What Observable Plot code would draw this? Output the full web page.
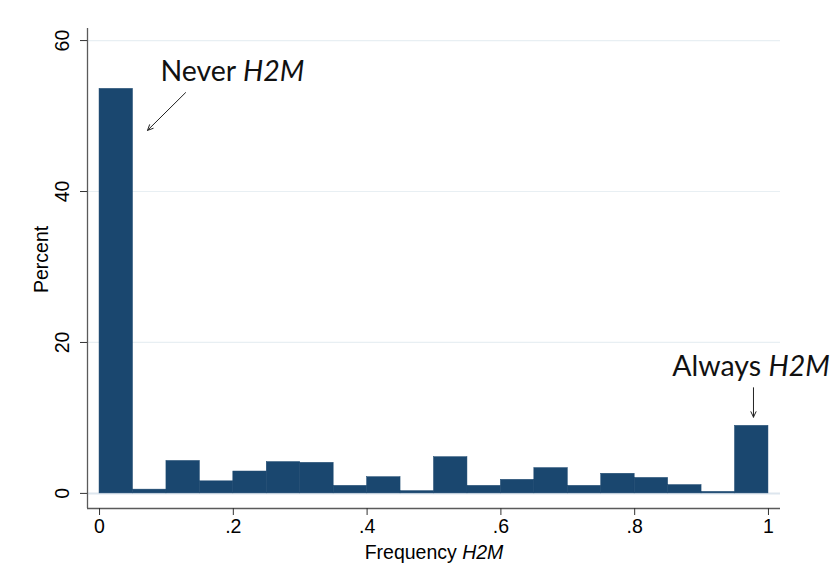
<!DOCTYPE html>
<html><head><meta charset="utf-8">
<script src="https://cdn.jsdelivr.net/npm/d3@7"></script>
<script src="https://cdn.jsdelivr.net/npm/@observablehq/plot@0.6"></script>
<style>
body{margin:0;background:#fff}
svg{display:block}
</style>
</head><body><div id="chart"></div>
<script>
// Histogram bins (left/right edges, width 0.05) and percent per bin
const binLeft  = [0, 0.05, 0.10, 0.15, 0.20, 0.25, 0.30, 0.35, 0.40, 0.45, 0.50, 0.55, 0.60, 0.65, 0.70, 0.75, 0.80, 0.85, 0.90, 0.95];
const binRight = [0.05, 0.10, 0.15, 0.20, 0.25, 0.30, 0.35, 0.40, 0.45, 0.50, 0.55, 0.60, 0.65, 0.70, 0.75, 0.80, 0.85, 0.90, 0.95, 1.00];
const percent  = [53.6, 0.5, 4.3, 1.6, 2.9, 4.15, 4.05, 1.0, 2.15, 0.3, 4.8, 1.0, 1.8, 3.35, 1.0, 2.6, 2.05, 1.1, 0.2, 8.95];

const xTicks = [0, 0.2, 0.4, 0.6, 0.8, 1];
const xTickLabels = ["0", ".2", ".4", ".6", ".8", "1"];
const yTicks = [0, 20, 40, 60];
const yTickLabels = ["0", "20", "40", "60"];
const xTitle = "Frequency H2M";
const yTitle = "Percent";
const yTitleAt = [31];

const annotLabels = ["Never H2M", "Always H2M"];
const annotTextX  = [0.091, 0.974];
const annotTextY  = [54.7, 15.5];
const annotAnchor = ["start", "middle"];
const arrowX1 = [0.1286, 0.9776];
const arrowY1 = [53.1, 14.0];
const arrowX2 = [0.0717, 0.9776];
const arrowY2 = [48.1, 10.1];

const xDomain = [-0.018, 1.018];
const yDomain = [-2, 61.6];

const bars = binLeft.map((l, i) => ({x1: l, x2: binRight[i], y: percent[i]}));
const annots = annotLabels.map((t, i) => ({t, x: annotTextX[i], y: annotTextY[i], a: annotAnchor[i]}));
const arrows = arrowX1.map((x1, i) => ({x1, y1: arrowY1[i], x2: arrowX2[i], y2: arrowY2[i]}));

const tickFont = "'Liberation Sans',Arial,sans-serif";
const annFont = "Lato,'Open Sans',sans-serif";

const chart = Plot.plot({
  width: 833,
  height: 582,
  marginLeft: 87,
  marginRight: 53,
  marginTop: 28,
  marginBottom: 74,
  style: {background: "#fff", fontFamily: tickFont},
  x: {domain: xDomain, axis: null},
  y: {domain: yDomain, axis: null},
  marks: [
    Plot.gridY(yTicks.slice(1), {stroke: "#e8eff3", strokeOpacity: 1, strokeWidth: 1.2}),
    Plot.ruleY([0], {stroke: "#dde6ee", strokeWidth: 2}),
    Plot.rectY(bars, {x1: "x1", x2: "x2", y: "y", fill: "#1a476f", stroke: "#1a476f", strokeWidth: 0.5}),
    Plot.ruleX([xDomain[0]], {stroke: "#5a5a5a", strokeWidth: 1.3}),
    Plot.ruleY([yDomain[0]], {stroke: "#5a5a5a", strokeWidth: 1.3}),
    // y axis ticks + rotated labels
    Plot.axisY({ticks: yTicks, tickSize: 7, tickFormat: () => "", label: null, stroke: "#333"}),
    Plot.text(yTicks, {y: d => d, text: (d) => yTickLabels[yTicks.indexOf(d)], frameAnchor: "left", dx: -24.5, rotate: -90, textAnchor: "middle", lineAnchor: "middle", fontSize: 19.5, fill: "#000"}),
    Plot.text([yTitle], {y: yTitleAt, text: d => d, frameAnchor: "left", dx: -46, rotate: -90, textAnchor: "middle", lineAnchor: "middle", fontSize: 19.5, fill: "#000"}),
    // x axis
    Plot.axisX({ticks: xTicks, tickFormat: d => xTickLabels[xTicks.indexOf(d)], tickSize: 7, tickPadding: 4, fontSize: 19.5, label: xTitle, labelAnchor: "center", labelArrow: "none", labelOffset: 50, stroke: "#333", fill: "#000"}),
    // annotations
    Plot.text(annots, {x: "x", y: "y", text: "t", textAnchor: "start", fontSize: 28.5, fontFamily: annFont, fontWeight: 400, fill: "#111", lineAnchor: "bottom", filter: d => d.a === "start"}),
    Plot.text(annots, {x: "x", y: "y", text: "t", textAnchor: "middle", fontSize: 28.5, fontFamily: annFont, fontWeight: 400, fill: "#111", lineAnchor: "bottom", filter: d => d.a === "middle"}),
    Plot.arrow(arrows, {x1: "x1", y1: "y1", x2: "x2", y2: "y2", stroke: "#222", strokeWidth: 1, headLength: 9, headAngle: 50})
  ]
});

// italicise "H2M" in texts
function italicise(node) {
  const s = node.textContent;
  const k = s.indexOf("H2M");
  if (k < 0) return;
  node.textContent = "";
  const a = document.createElementNS("http://www.w3.org/2000/svg", "tspan");
  a.textContent = s.slice(0, k);
  const b = document.createElementNS("http://www.w3.org/2000/svg", "tspan");
  b.textContent = "H2M";
  b.setAttribute("font-style", "italic");
  node.appendChild(a); node.appendChild(b);
}
chart.querySelectorAll("text").forEach(t => {
  const ts = t.querySelectorAll("tspan");
  if (ts.length) ts.forEach(italicise); else italicise(t);
});
document.getElementById("chart").appendChild(chart);
</script>
</body></html>
